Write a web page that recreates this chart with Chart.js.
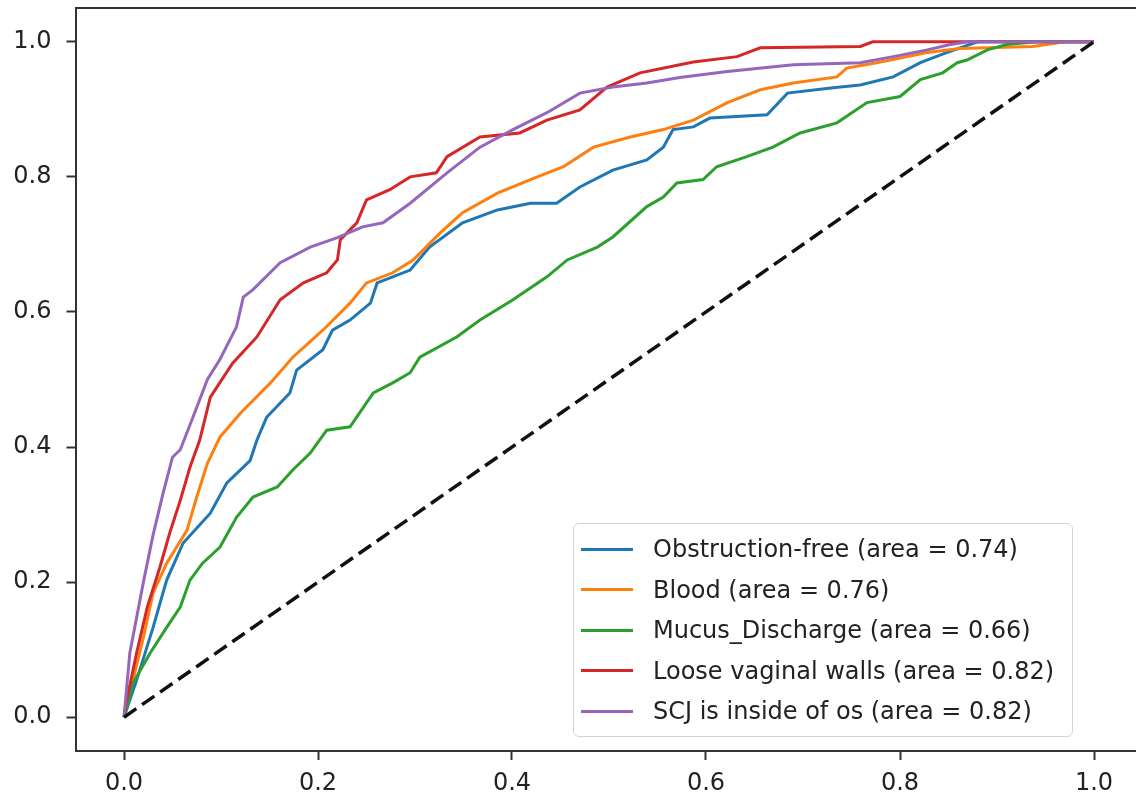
<!DOCTYPE html>
<html>
<head>
<meta charset="utf-8">
<title>ROC curves</title>
<script src="https://cdn.jsdelivr.net/npm/chart.js@4/dist/chart.umd.min.js"></script>
<style>
  html, body { margin: 0; padding: 0; background: #fff; overflow: hidden; }
  .wrap { position: relative; width: 1150px; height: 799px; }
  .legend {
    position: absolute; left: 573px; top: 523px; width: 500px; height: 214px;
    border: 1.5px solid #d4d4d4; border-radius: 6px; background: rgba(255,255,255,0.85);
    padding-top: 5px; box-sizing: border-box;
    font-family: "DejaVu Sans", sans-serif; font-size: 24px; color: #222;
  }
  .legend .row { height: 40.5px; display: flex; align-items: center; white-space: nowrap; }
  .legend .swatch { width: 52px; height: 3px; margin-left: 7px; margin-right: 20px; }
</style>
</head>
<body>
<div class="wrap">
  <canvas id="roc"></canvas>
  <div class="legend" id="legend"></div>
</div>
<script>
  const seriesLabels = [
    "Obstruction-free (area = 0.74)",
    "Blood (area = 0.76)",
    "Mucus_Discharge (area = 0.66)",
    "Loose vaginal walls (area = 0.82)",
    "SCJ is inside of os (area = 0.82)",
  ];
  const seriesColors = ["#1f77b4", "#ff7f0e", "#2ca02c", "#d62728", "#9467bd"];

  const xTicks = [0, 0.2, 0.4, 0.6, 0.8, 1.0];
  const yTicks = [0, 0.2, 0.4, 0.6, 0.8, 1.0];

  // false positive rate / true positive rate
  const obstructionFpr = [0, 0.013, 0.03, 0.044, 0.061, 0.089, 0.106, 0.13, 0.137, 0.147, 0.171, 0.178, 0.205, 0.215, 0.233, 0.254, 0.261, 0.277, 0.295, 0.315, 0.349, 0.385, 0.419, 0.446, 0.47, 0.504, 0.539, 0.556, 0.566, 0.587, 0.604, 0.663, 0.684, 0.731, 0.759, 0.793, 0.821, 0.848, 0.88, 1];
  const obstructionTpr = [0, 0.055, 0.133, 0.203, 0.258, 0.302, 0.347, 0.38, 0.41, 0.444, 0.48, 0.514, 0.544, 0.573, 0.588, 0.613, 0.643, 0.652, 0.662, 0.696, 0.732, 0.751, 0.761, 0.761, 0.785, 0.81, 0.825, 0.844, 0.87, 0.874, 0.887, 0.892, 0.924, 0.932, 0.936, 0.948, 0.969, 0.984, 1, 1];

  const bloodFpr = [0, 0.006, 0.02, 0.03, 0.044, 0.065, 0.075, 0.086, 0.099, 0.12, 0.151, 0.174, 0.205, 0.233, 0.25, 0.277, 0.298, 0.326, 0.349, 0.385, 0.419, 0.453, 0.484, 0.522, 0.556, 0.587, 0.622, 0.656, 0.69, 0.735, 0.745, 0.776, 0.828, 0.862, 0.937, 0.97, 1];
  const bloodTpr = [0, 0.036, 0.118, 0.184, 0.228, 0.277, 0.326, 0.376, 0.415, 0.45, 0.495, 0.533, 0.573, 0.613, 0.643, 0.658, 0.677, 0.717, 0.747, 0.776, 0.796, 0.815, 0.844, 0.859, 0.87, 0.884, 0.91, 0.929, 0.939, 0.948, 0.961, 0.969, 0.984, 0.99, 0.993, 1, 1];

  const mucusFpr = [0, 0.009, 0.027, 0.044, 0.058, 0.068, 0.081, 0.099, 0.116, 0.133, 0.158, 0.174, 0.192, 0.209, 0.233, 0.257, 0.277, 0.295, 0.305, 0.343, 0.367, 0.401, 0.436, 0.457, 0.488, 0.504, 0.539, 0.556, 0.57, 0.597, 0.611, 0.642, 0.669, 0.697, 0.735, 0.766, 0.8, 0.821, 0.844, 0.859, 0.869, 0.89, 0.91, 0.94, 1];
  const mucusTpr = [0, 0.05, 0.095, 0.133, 0.163, 0.203, 0.228, 0.252, 0.296, 0.326, 0.341, 0.366, 0.391, 0.425, 0.43, 0.48, 0.495, 0.51, 0.533, 0.563, 0.588, 0.618, 0.652, 0.677, 0.696, 0.711, 0.756, 0.77, 0.791, 0.796, 0.815, 0.83, 0.844, 0.865, 0.88, 0.91, 0.919, 0.944, 0.954, 0.969, 0.973, 0.988, 0.996, 1, 1];

  const looseFpr = [0, 0.002, 0.013, 0.024, 0.037, 0.047, 0.058, 0.068, 0.078, 0.089, 0.112, 0.137, 0.161, 0.185, 0.209, 0.22, 0.223, 0.24, 0.25, 0.274, 0.295, 0.322, 0.333, 0.367, 0.408, 0.436, 0.47, 0.498, 0.532, 0.573, 0.587, 0.632, 0.656, 0.759, 0.772, 1];
  const looseTpr = [0, 0.02, 0.095, 0.163, 0.222, 0.272, 0.321, 0.37, 0.41, 0.474, 0.524, 0.563, 0.618, 0.643, 0.658, 0.677, 0.707, 0.732, 0.766, 0.781, 0.8, 0.806, 0.83, 0.859, 0.865, 0.884, 0.899, 0.933, 0.954, 0.966, 0.97, 0.978, 0.991, 0.993, 1, 1];

  const scjFpr = [0, 0.006, 0.02, 0.03, 0.04, 0.05, 0.058, 0.07, 0.086, 0.099, 0.116, 0.123, 0.133, 0.161, 0.192, 0.22, 0.246, 0.267, 0.295, 0.333, 0.367, 0.401, 0.436, 0.47, 0.504, 0.539, 0.573, 0.622, 0.69, 0.759, 0.793, 0.828, 0.852, 0.87, 1];
  const scjTpr = [0, 0.095, 0.2, 0.27, 0.33, 0.385, 0.396, 0.44, 0.5, 0.53, 0.578, 0.622, 0.633, 0.673, 0.696, 0.71, 0.726, 0.732, 0.761, 0.806, 0.844, 0.87, 0.895, 0.924, 0.933, 0.939, 0.947, 0.956, 0.966, 0.969, 0.978, 0.988, 0.996, 1, 1];

  const chanceFpr = [0, 1];
  const chanceTpr = [0, 1];

  const seriesFpr = [obstructionFpr, bloodFpr, mucusFpr, looseFpr, scjFpr];
  const seriesTpr = [obstructionTpr, bloodTpr, mucusTpr, looseTpr, scjTpr];

  function toPoints(xs, ys) {
    return xs.map((x, i) => ({ x: x, y: ys[i] }));
  }

  const datasets = seriesLabels.map((label, i) => ({
    label: label,
    data: toPoints(seriesFpr[i], seriesTpr[i]),
    borderColor: seriesColors[i],
    borderWidth: 3,
    order: 6 - i,
  }));
  datasets.push({
    label: "chance",
    data: toPoints(chanceFpr, chanceTpr),
    borderColor: "#111",
    borderWidth: 3.5,
    borderDash: [15, 7],
    order: 0,
  });

  const topSpine = {
    id: "topSpine",
    afterDraw(chart) {
      const { ctx, chartArea } = chart;
      ctx.save();
      ctx.strokeStyle = "#333";
      ctx.lineWidth = 2;
      ctx.beginPath();
      ctx.moveTo(chartArea.left, chartArea.top);
      ctx.lineTo(chartArea.right, chartArea.top);
      ctx.stroke();
      ctx.restore();
    },
  };

  // drop the edge padding Chart.js reserves for labels, the range already has margins
  function noEdgePadding(s) {
    s.paddingTop = 0;
    s.paddingBottom = 0;
    s.paddingLeft = 0;
    s.paddingRight = 0;
  }

  const tickFont = { family: "DejaVu Sans", size: 24 };

  const chart = new Chart(document.getElementById("roc"), {
    type: "scatter",
    data: { datasets: datasets },
    plugins: [topSpine],
    options: {
      responsive: true,
      maintainAspectRatio: false,
      animation: false,
      showLine: true,
      elements: { point: { radius: 0, hoverRadius: 0 }, line: { tension: 0, fill: false } },
      layout: { padding: { top: 8, right: 7.5, left: 0, bottom: 0 } },
      plugins: { legend: { display: false }, tooltip: { enabled: false } },
      scales: {
        x: {
          type: "linear",
          min: -0.05,
          max: 1.05,
          afterBuildTicks: (s) => { s.ticks = xTicks.map((v) => ({ value: v })); },
          afterFit: (s) => { s.height = 48; noEdgePadding(s); },
          ticks: { color: "#222", font: tickFont, padding: 9, maxRotation: 0, callback: (v) => Number(v).toFixed(1) },
          grid: { display: true, drawOnChartArea: false, drawTicks: true, tickLength: 9, tickWidth: 2, color: "#333" },
          border: { display: true, color: "#333", width: 2 },
        },
        y: {
          type: "linear",
          min: -0.05,
          max: 1.05,
          afterBuildTicks: (s) => { s.ticks = yTicks.map((v) => ({ value: v })); },
          afterFit: (s) => { s.width = 75.5; noEdgePadding(s); },
          ticks: { color: "#222", font: tickFont, padding: 15, callback: (v) => Number(v).toFixed(1) },
          grid: { display: true, drawOnChartArea: false, drawTicks: true, tickLength: 9, tickWidth: 2, color: "#333" },
          border: { display: true, color: "#333", width: 2 },
        },
      },
    },
  });

  const legend = document.getElementById("legend");
  seriesLabels.forEach((label, i) => {
    const row = document.createElement("div");
    row.className = "row";
    const sw = document.createElement("span");
    sw.className = "swatch";
    sw.style.background = seriesColors[i];
    const txt = document.createElement("span");
    txt.textContent = label;
    row.appendChild(sw);
    row.appendChild(txt);
    legend.appendChild(row);
  });
</script>
</body>
</html>
